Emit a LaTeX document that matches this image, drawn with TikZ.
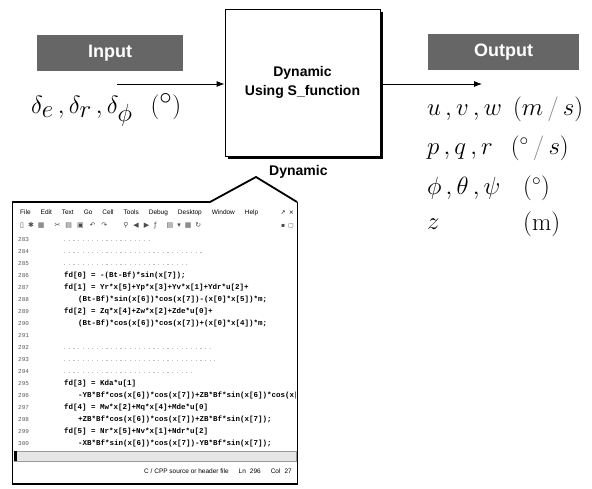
\documentclass[tikz,border=0pt]{standalone}
\usepackage{fontspec}
\setsansfont{Liberation Sans}
\setmonofont{Liberation Mono}
\newfontfamily\symfont{DejaVu Sans}
\usetikzlibrary{arrows.meta,positioning,calc}

\newcommand\codeline[3]{\node[code] (cl#1) at (#2,{240+12*(#1-283)}) {#3};}

\begin{document}
\begin{tikzpicture}[
  x=1pt, y=-1pt,
  font=\sffamily,
  block/.style={draw, line width=0.8pt, minimum width=155pt, minimum height=147pt, align=center, inner sep=0pt, font=\sffamily\bfseries\fontsize{14}{19}\selectfont},
  banner/.style={fill=black!60, text=white, minimum height=36pt, inner sep=0pt, font=\sffamily\bfseries\fontsize{18}{22}\selectfont},
  arr/.style={-{Latex[length=8pt,width=6pt]}, line width=0.8pt},
  vars/.style={anchor=west, inner sep=0pt, font=\fontsize{25}{30}\selectfont},
  callout/.style={line width=1.8pt, line join=miter},
  menu/.style={anchor=west, inner sep=0pt, font=\sffamily\fontsize{6.5}{8}\selectfont},
  code/.style={anchor=west, inner sep=0pt, font=\ttfamily\bfseries\fontsize{7.5}{9}\selectfont},
  lnum/.style={anchor=west, inner sep=0pt, text=black!65, font=\ttfamily\fontsize{6}{7}\selectfont},
  cmt/.style={black!25, line width=0.8pt, dash pattern=on 1.2pt off 3.5pt}
]
\useasboundingbox (0,0) rectangle (592,489);

% --- block with input and output
\node[block] (dyn) at (302.5,82.5) {Dynamic\\Using S\_function};
\draw[line width=1.5pt] ($(dyn.north east)+(1.5,3)$) -- ($(dyn.south east)+(1.5,1.5)$) -- ($(dyn.south west)+(3,1.5)$);

\node[banner, minimum width=146pt] (inlbl) at (110,53.5) {Input};
\node[banner, minimum width=151pt] (outlbl) at (503.5,52.5) {Output};

\coordinate (inbeg) at (117,84);
\coordinate (outend) at (482,84);
\draw[arr] (inbeg) -- (inbeg -| dyn.west);
\draw[arr] (outend -| dyn.east) -- (outend);

\node[vars, font=\fontsize{34}{40}\selectfont] (invars) at (31,110) {$\delta_e\,,\delta_r\,,\delta_\phi\;\;\,({}^\circ)$};

\node[vars] (vel) at (427,109) {$u\,,v\,,w\;\,(m\,{\color{black!45}/}\,s)$};
\node[vars] (rate) at (427,148) {$p\,,q\,,r\;\;\,({}^\circ\,{\color{black!45}/}\,s)$};
\node[vars] (ang) at (427,188) {$\phi\,,\theta\,,\psi$};
\node[vars] (angu) at (523,188) {$({}^\circ)$};
\node[vars] (dep) at (427,224) {$z$};
\node[vars] (depu) at (523,224) {(m)};

% --- editor window with the s-function code
\coordinate (wnw) at (12,202);
\coordinate (wse) at (297,484);
\coordinate (peak) at (256,177);
\node[font=\sffamily\bfseries\fontsize{14}{16}\selectfont, anchor=west, inner sep=0pt] (dynlbl) at (269,172) {Dynamic};
\draw[line width=0.8pt] (210,202) -- (wnw) -- (wnw |- wse) -- (wse) -- (wse |- wnw);
\draw[callout] (wnw) -- (210,202) -- (peak) -- (wse |- wnw);
\draw[line width=2pt] (wnw |- wse) -- (wse);

\node[menu] (menubar) at (20,213) {File\hspace{10pt}Edit\hspace{10pt}Text\hspace{10pt}Go\hspace{10pt}Cell\hspace{10pt}Tools\hspace{10pt}Debug\hspace{10pt}Desktop\hspace{10pt}Window\hspace{10pt}Help};
\node[menu, anchor=east, font=\symfont\fontsize{6}{7}\selectfont] (winbtn) at (294,213) {↗\hspace{3pt}×};
\node[menu, font=\symfont\fontsize{7}{8}\selectfont, text=black!70] (toolbar) at (20,226) {▯\hspace{4pt}✱\hspace{4pt}▦\hspace{10pt}✂\hspace{5pt}▤\hspace{5pt}▣\hspace{6pt}↶\hspace{6pt}↷\hspace{16pt}⚲\hspace{5pt}◀\hspace{5pt}▶\hspace{5pt}ƒ\hspace{10pt}▤\hspace{4pt}▾\hspace{4pt}▦\hspace{4pt}↻};
\node[menu, anchor=east, font=\symfont\fontsize{6}{7}\selectfont, text=black!70] (tbbtn) at (294,226) {▪\hspace{3pt}▢};

\begin{scope}
\clip (13,232) rectangle (295,451);
\foreach \n in {283,...,301}
  \node[lnum] (ln\n) at (18,{240+12*(\n-283)}) {\n};
\foreach \n/\len in {283/150,284/205,285/190,292/210,293/215,294/195}
  \draw[cmt] (64,{240+12*(\n-283)}) -- (\len,{240+12*(\n-283)});
\codeline{286}{64}{fd[0] = -(Bt-Bf)*sin(x[7]);}
\codeline{287}{64}{fd[1] = Yr*x[5]+Yp*x[3]+Yv*x[1]+Ydr*u[2]+}
\codeline{288}{78}{(Bt-Bf)*sin(x[6])*cos(x[7])-(x[0]*x[5])*m;}
\codeline{289}{64}{fd[2] = Zq*x[4]+Zw*x[2]+Zde*u[0]+}
\codeline{290}{78}{(Bt-Bf)*cos(x[6])*cos(x[7])+(x[0]*x[4])*m;}
\codeline{295}{64}{fd[3] = Kda*u[1]}
\codeline{296}{78}{-YB*Bf*cos(x[6])*cos(x[7])+ZB*Bf*sin(x[6])*cos(x[7]);}
\codeline{297}{64}{fd[4] = Mw*x[2]+Mq*x[4]+Mde*u[0]}
\codeline{298}{78}{+ZB*Bf*cos(x[6])*cos(x[7])+ZB*Bf*sin(x[7]);}
\codeline{299}{64}{fd[5] = Nr*x[5]+Nv*x[1]+Ndr*u[2]}
\codeline{300}{78}{-XB*Bf*sin(x[6])*cos(x[7])-YB*Bf*sin(x[7]);}
\end{scope}

\node[draw=black!40, fill=black!10, minimum width=282pt, minimum height=10pt, inner sep=0pt, anchor=north west] (hscroll) at (14,451) {};
\node[fill=black, minimum width=3pt, minimum height=10pt, inner sep=0pt, anchor=north west] (hleft) at (14,451) {};
\node[menu, anchor=east] (status) at (292,471) {C / CPP source or header file\hspace{10pt}Ln\hspace{4pt}296\hspace{10pt}Col\hspace{4pt}27};
\end{tikzpicture}
\end{document}
